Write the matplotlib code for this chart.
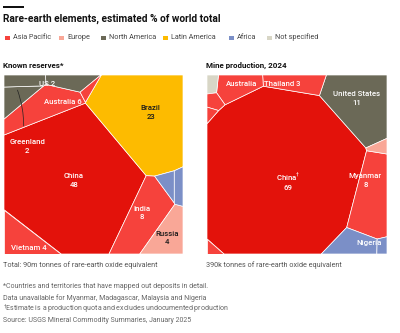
import numpy as np
import matplotlib
matplotlib.use("Agg")
import matplotlib.pyplot as plt
from matplotlib.patches import Polygon, Rectangle

plt.rcParams['font.family'] = ['Roboto', 'DejaVu Sans']

# ---------------- data ----------------
regions = ["Asia Pacific", "Europe", "North America", "Latin America", "Africa", "Not specified"]
region_colors = ["#F6423C", "#F9A797", "#6B6957", "#FDBB00", "#7B8FC7", "#D8D6C6"]

reserve_names = ["China", "Brazil", "India", "Australia", "Russia", "Vietnam",
                 "US", "Greenland", "Canada", "Tanzania", "South Africa", "Other Asia"]
reserve_values = [48, 23, 8, 6, 4, 4, 2, 2, 1.5, 1, 1, 0.5]
reserve_regions = ["Asia Pacific", "Latin America", "Asia Pacific", "Asia Pacific", "Europe",
                   "Asia Pacific", "North America", "North America", "North America",
                   "Africa", "Africa", "Asia Pacific"]

prod_names = ["China", "United States", "Myanmar", "Thailand", "Australia", "Nigeria",
              "Other", "Russia", "Madagascar", "India", "Malaysia", "Vietnam"]
prod_values = [69, 11, 8, 3, 3, 3, 0.6, 0.6, 0.5, 0.7, 0.3, 0.4]
prod_regions = ["Asia Pacific", "North America", "Asia Pacific", "Asia Pacific", "Asia Pacific",
                "Africa", "Not specified", "Europe", "Africa", "Asia Pacific", "Asia Pacific",
                "Asia Pacific"]

reserve_labels = {"China": "China\n48", "Brazil": "Brazil\n23", "India": "India\n8",
                  "Australia": "Australia 6", "Russia": "Russia\n4", "Vietnam": "Vietnam 4",
                  "US": "US 2"}
prod_labels = {"China": "China$^{\\dagger}$\n69", "United States": "United States\n11",
               "Myanmar": "Myanmar\n8", "Thailand": "Thailand 3", "Australia": "Australia",
               "Nigeria": "Nigeria"}

# ---------------- layout (seed sites, panel coords, y downward) ----------------
reserve_sites = {"China": (0.33, 0.61), "Brazil": (0.76, 0.25), "India": (0.73, 0.80),
                 "Australia": (0.175, 0.215), "Russia": (0.90, 0.92), "Vietnam": (0.09, 0.92),
                 "US": (0.26, -0.16), "Greenland": (-0.037, -0.038), "Canada": (-0.04, -0.14),
                 "Tanzania": (0.88, 0.69), "South Africa": (0.96, 0.69), "Other Asia": (0.45, 0.07)}
prod_sites = {"China": (0.42, 0.58), "United States": (0.86, 0.17), "Myanmar": (0.83, 0.70),
              "Thailand": (0.46, 0.05), "Australia": (0.18, 0.07), "Nigeria": (0.88, 0.93),
              "Other": (0.03, 0.02), "Russia": (0.99, 0.70), "Madagascar": (0.98, 0.80),
              "India": (0.03, 0.16), "Malaysia": (0.01, 0.26), "Vietnam": (0.02, 0.97)}

reg_color = dict(zip(regions, region_colors))


def clip(poly, a, b):
    out = []
    n = len(poly)
    for k in range(n):
        p = poly[k]
        q = poly[(k + 1) % n]
        fp = a[0] * p[0] + a[1] * p[1] - b
        fq = a[0] * q[0] + a[1] * q[1] - b
        if fp <= 0:
            out.append(p)
        if (fp < 0 < fq) or (fq < 0 < fp):
            t = fp / (fp - fq)
            out.append((p[0] + t * (q[0] - p[0]), p[1] + t * (q[1] - p[1])))
    return out


def area_centroid(poly):
    if len(poly) < 3:
        return 0.0, None
    P = np.array(poly)
    x, y = P[:, 0], P[:, 1]
    x1, y1 = np.roll(x, -1), np.roll(y, -1)
    cr = x * y1 - x1 * y
    A = cr.sum() / 2
    if abs(A) < 1e-12:
        return 0.0, None
    cx = ((x + x1) * cr).sum() / (6 * A)
    cy = ((y + y1) * cr).sum() / (6 * A)
    return abs(A), (cx, cy)


def power_cells(S, w):
    sq = [(0, 0), (1, 0), (1, 1), (0, 1)]
    cells = []
    n = len(S)
    for i in range(n):
        poly = sq
        for j in range(n):
            if i == j or not poly:
                continue
            a = (2 * (S[j][0] - S[i][0]), 2 * (S[j][1] - S[i][1]))
            b = (S[j] @ S[j]) - (S[i] @ S[i]) - w[j] + w[i]
            poly = clip(poly, a, b)
        cells.append(poly)
    return cells


def voronoi_treemap(names, values, sites, n_lloyd=6, relax=0.5, lr=0.12, final=1000):
    S = np.array([sites[n] for n in names], float)
    t = np.array(values, float)
    t = t / t.sum()
    w = np.zeros(len(S))

    def fit(S, w, k):
        for _ in range(k):
            cells = power_cells(S, w)
            A = np.array([area_centroid(c)[0] for c in cells])
            w += lr * (t - A)
        return w

    w = fit(S, w, 500)
    for _ in range(n_lloyd):
        cells = power_cells(S, w)
        for i, c in enumerate(cells):
            a, cen = area_centroid(c)
            if cen is not None:
                S[i] += relax * (np.array(cen) - S[i])
        w = fit(S, w, 40)
    w = fit(S, w, final)
    return power_cells(S, w)


fig = plt.figure(figsize=(4.0, 3.33), dpi=100)
W, H = 400, 333


def fx(px):
    return px / W


def fy(py):
    return 1 - py / H


def panel(rect_px, names, values, regs, sites, labels, dark, extra=None, n_lloyd=6,
          lr=0.12, final=1000):
    x0, y0, x1, y1 = rect_px
    ax = fig.add_axes([fx(x0), fy(y1), fx(x1 - x0), (y1 - y0) / H])
    ax.set_xlim(0, 1)
    ax.set_ylim(1, 0)
    ax.axis('off')
    cells = voronoi_treemap(names, values, sites, n_lloyd=n_lloyd, lr=lr, final=final)
    for n, reg, c in zip(names, regs, cells):
        if len(c) < 3:
            continue
        col = reg_color[reg]
        if n == "China":
            col = "#E3120B"
        ax.add_patch(Polygon(c, closed=True, facecolor=col, edgecolor="white",
                             linewidth=0.5, joinstyle='round'))
        if n in labels:
            _, cen = area_centroid(c)
            cx, cy = cen if cen is not None else (0.5, 0.5)
            if extra and n in extra:
                cx, cy = extra[n]
            ax.text(cx, cy, labels[n], ha='center', va='center', fontsize=5.6,
                    fontweight='medium', color=("#1a1a1a" if n in dark else "white"),
                    linespacing=1.5)
    return ax, cells


axL, cellsL = panel((4, 75, 183, 254), reserve_names, reserve_values, reserve_regions,
                    reserve_sites, reserve_labels, dark={"Brazil", "Russia"},
                    extra={"Vietnam": (0.14, 0.965), "Australia": (0.33, 0.15),
                           "US": (0.24, 0.05), "China": (0.39, 0.59),
                           "Brazil": (0.82, 0.21), "India": (0.77, 0.77),
                           "Russia": (0.91, 0.91)}, n_lloyd=0, lr=0.2, final=1800)
axL.text(0.13, 0.40, "Greenland\n2", ha='center', va='center', fontsize=5.6,
         fontweight='medium', color='white', linespacing=1.5)
axL.annotate("", xy=(0.07, 0.07), xytext=(0.11, 0.30),
             arrowprops=dict(arrowstyle='-', color='#222222', lw=0.5,
                             connectionstyle='arc3,rad=0.1'))

axR, cellsR = panel((207, 75, 387, 254), prod_names, prod_values, prod_regions,
                    prod_sites, prod_labels, dark=set(),
                    extra={"China": (0.45, 0.59), "United States": (0.83, 0.13),
                           "Myanmar": (0.88, 0.59), "Nigeria": (0.90, 0.94),
                           "Australia": (0.19, 0.05), "Thailand": (0.42, 0.05)}, n_lloyd=8)

# ---------------- text ----------------
fig.add_artist(Rectangle((fx(3), fy(8)), fx(21), 1.6 / H, transform=fig.transFigure,
                         facecolor='#111111', edgecolor='none'))
fig.text(fx(3), fy(19), "Rare-earth elements, estimated % of world total", fontsize=7.3,
         fontweight='bold', color='#111111', va='center', ha='left')

leg_x = [5, 59, 101, 163, 229, 267]
for xp, reg, col in zip(leg_x, regions, region_colors):
    fig.add_artist(Rectangle((fx(xp), fy(40)), fx(4.5), 4.5 / H, transform=fig.transFigure,
                             facecolor=col, edgecolor='none'))
    fig.text(fx(xp + 8), fy(37.5), reg, fontsize=5.2, color='#444444', va='center', ha='left')

fig.text(fx(3), fy(65), "Known reserves*", fontsize=5.8, fontweight='bold', color='#111111',
         va='center', ha='left')
fig.text(fx(206), fy(65), "Mine production, 2024", fontsize=5.8, fontweight='bold',
         color='#111111', va='center', ha='left')
fig.text(fx(3), fy(265), "Total: 90m tonnes of rare-earth oxide equivalent", fontsize=5.2,
         color='#555555', va='center', ha='left')
fig.text(fx(206), fy(265), "390k tonnes of rare-earth oxide equivalent", fontsize=5.2,
         color='#555555', va='center', ha='left')

notes = ["*Countries and territories that have mapped out deposits in detail.",
         "Data unavailable for Myanmar, Madagascar, Malaysia and Nigeria",
         "$^{\\dagger}$Estimate is a production quota and excludes undocumented production",
         "Source: USGS Mineral Commodity Summaries, January 2025"]
for k, t in enumerate(notes):
    fig.text(fx(3), fy(287 + 11.3 * k), t, fontsize=5.0, color='#666666', va='center', ha='left')

fig.savefig("out.png", dpi=100)
